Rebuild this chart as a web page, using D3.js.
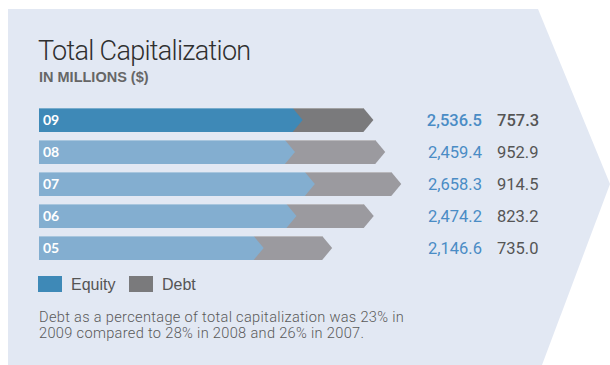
<!DOCTYPE html>
<html>
<head>
<meta charset="utf-8">
<script src="https://cdn.jsdelivr.net/npm/d3@7"></script>
<style>
  html, body { margin: 0; padding: 0; background: #fff; }
  svg { display: block; font-family: "Liberation Sans", Arial, sans-serif; }
</style>
</head>
<body>
<svg id="chart" width="610" height="365"></svg>
<script>
// Data (millions of $)
const years = ['09', '08', '07', '06', '05'];
const equity = [2536.5, 2459.4, 2658.3, 2474.2, 2146.6];
const debt = [757.3, 952.9, 914.5, 823.2, 735.0];
const legendLabels = ['Equity', 'Debt'];
const footnoteLines = [
    'Debt as a percentage of total capitalization was 23% in',
    '2009 compared to 28% in 2008 and 26% in 2007.'
];

const svg = d3.select('#chart');

// Background chevron panel
svg.append('polygon')
    .attr('points', '8,9 538,9 610,184 542,365 8,365')
    .style('fill', '#e2e8f3');

// Title
svg.append('text')
    .attr('x', 38)
    .attr('y', 60)
    .style('font-family', 'Roboto, "Liberation Sans", sans-serif')
    .style('font-weight', '300')
    .style('font-size', '27px')
    .style('fill', '#2f2f2f')
    .style('letter-spacing', '-0.7px')
    .text('Total Capitalization');

svg.append('text')
    .attr('x', 39)
    .attr('y', 82)
    .style('font-weight', '700')
    .style('font-size', '14.5px')
    .style('fill', '#666')
    .text('IN MILLIONS ($)');

const data = years.map((y, i) => ({
    year: y,
    equity: equity[i],
    debt: debt[i],
    total: equity[i] + debt[i],
    latest: i === 0
}));

// Scales
const x = d3.scaleLinear().domain([0, 3600]).range([39, 399]);
const y = d3.scaleBand()
    .domain(years)
    .range([104, 264])
    .paddingInner(0.25)
    .paddingOuter(0.125);

const bh = y.bandwidth();
const head = 10;

// arrow path: body ends at xb, tip at xb + head
function arrow(x0, xb, y0) {
    return `M${x0},${y0} L${xb},${y0} L${xb + head},${y0 + bh / 2} L${xb},${y0 + bh} L${x0},${y0 + bh} Z`;
}

const rows = svg.append('g').selectAll('g')
    .data(data)
    .enter()
    .append('g');

// Debt arrow (full length, drawn behind)
rows.append('path')
    .attr('d', d => arrow(x(0), x(d.total) - 5, y(d.year)))
    .style('fill', d => d.latest ? '#7a7a7c' : '#9b9a9f');

// Equity arrow on top
rows.append('path')
    .attr('d', d => arrow(x(0), x(d.equity), y(d.year)))
    .style('fill', d => d.latest ? '#3e89b7' : '#83aed0');

// Thin highlight along the top edge
rows.append('line')
    .attr('x1', x(0))
    .attr('x2', d => x(d.total) - 5)
    .attr('y1', d => y(d.year) + 0.5)
    .attr('y2', d => y(d.year) + 0.5)
    .style('stroke', '#fff')
    .style('stroke-opacity', 0.3)
    .style('stroke-width', 1);

// Year labels in the bars
rows.append('text')
    .attr('x', 43)
    .attr('y', d => y(d.year) + bh / 2 + 5)
    .style('font-family', 'Lato, "Open Sans", sans-serif')
    .style('font-weight', '700')
    .style('font-size', '14px')
    .style('fill', '#fff')
    .text(d => d.year);

const fmt = d3.format(',.1f');

// Value columns
rows.append('text')
    .attr('x', 482)
    .attr('y', d => y(d.year) + bh / 2 + 6)
    .attr('text-anchor', 'end')
    .style('font-family', 'Roboto, "Liberation Sans", sans-serif')
    .style('font-size', '16.5px')
    .style('fill', '#4a8cc5')
    .style('font-weight', d => d.latest ? '500' : '400')
    .text(d => fmt(d.equity));

rows.append('text')
    .attr('x', 497)
    .attr('y', d => y(d.year) + bh / 2 + 6)
    .style('font-family', 'Roboto, "Liberation Sans", sans-serif')
    .style('font-size', '16.5px')
    .style('fill', '#555')
    .style('font-weight', d => d.latest ? '500' : '400')
    .text(d => fmt(d.debt));

// Legend
const legendColors = ['#3e89b7', '#7a7a7c'];
const legendX = [38, 129];
const legend = svg.append('g').selectAll('g')
    .data(legendLabels)
    .enter()
    .append('g')
    .attr('transform', (d, i) => `translate(${legendX[i]},276)`);

legend.append('rect')
    .attr('width', 24)
    .attr('height', 16)
    .style('fill', (d, i) => legendColors[i]);

legend.append('text')
    .attr('x', 33)
    .attr('y', 14)
    .style('font-size', '16px')
    .style('fill', '#555')
    .text(d => d);

// Footnote
svg.append('g').selectAll('text')
    .data(footnoteLines)
    .enter()
    .append('text')
    .attr('x', 39)
    .attr('y', (d, i) => 321.5 + i * 16.5)
    .style('font-family', 'Roboto, "Liberation Sans", sans-serif')
    .style('font-weight', '300')
    .style('font-size', '14.6px')
    .style('letter-spacing', '0.32px')
    .style('fill', '#5a5a5a')
    .text(d => d);
</script>
</body>
</html>
